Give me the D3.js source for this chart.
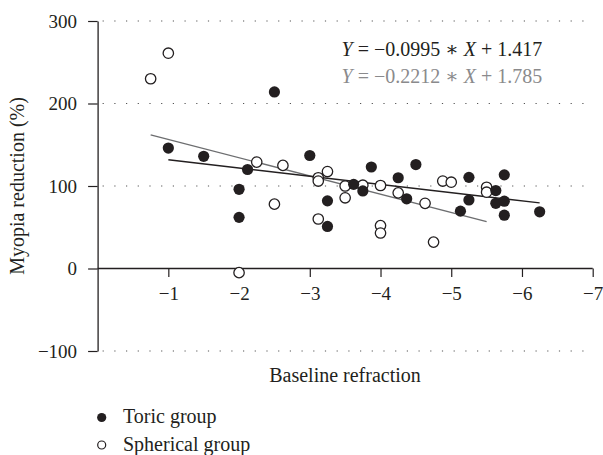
<!DOCTYPE html>
<html>
<head>
<meta charset="utf-8">
<script src="https://cdn.jsdelivr.net/npm/d3@7"></script>
<style>
  html, body { margin: 0; padding: 0; background: #fff; }
  svg text { font-family: "Liberation Serif", "DejaVu Serif", serif !important; }
</style>
</head>
<body>
<svg id="chart" width="603" height="455"></svg>
<script>
// ---- data ----
const toricX = [-1, -1.5, -2, -2, -2.12, -2.5, -3, -3.25, -3.25, -3.62, -3.75, -3.87, -4.25, -4.37, -4.5, -5.13, -5.25, -5.25, -5.63, -5.63, -5.75, -5.75, -5.75, -6.25];
const toricY = [146, 136, 96, 62, 120, 214, 137, 82, 51, 102, 94, 123, 110, 84.5, 126, 69.5, 110.5, 83, 94.5, 79, 113.5, 81.6, 64.6, 68.7];
const sphericalX = [-0.75, -1, -2, -2.25, -2.5, -2.62, -3.12, -3.12, -3.12, -3.25, -3.5, -3.5, -3.75, -4, -4, -4, -4.25, -4.63, -4.75, -4.88, -5, -5.5, -5.5];
const sphericalY = [230, 261, -5, 129, 78, 125, 110, 106, 60, 117.5, 100, 85.7, 101, 100.6, 52, 43, 91.7, 79, 32, 106, 104.6, 98.5, 92.5];
const toricFit = { slope: -0.0995, intercept: 1.417 };
const sphericalFit = { slope: -0.2212, intercept: 1.785 };
const xTicks = [-1, -2, -3, -4, -5, -6, -7];
const yTicks = [-100, 0, 100, 200, 300];
const gridValues = [300, 200, 100, -100];
const seriesNames = ["Toric group", "Spherical group"];
const equationTexts = [
  ["Y", " = \u22120.0995 \u2217 ", "X", " + 1.417"],
  ["Y", " = \u22120.2212 \u2217 ", "X", " + 1.785"]
];
const xTitle = "Baseline refraction";
const yTitle = "Myopia reduction (%)";

// ---- drawing ----
const ink = "#231f20";
const gray = "#8a8a8c";
const svg = d3.select("#chart");
const x = d3.scaleLinear().domain([0, -7]).range([97.6, 592.7]);
const y = d3.scaleLinear().domain([-100, 300]).range([351, 21]);
const fmt = d => (d < 0 ? "\u2212" + Math.abs(d) : String(d));

// gridlines
svg.append("g").selectAll("line").data(gridValues).join("line")
  .attr("x1", x(0) + 5).attr("x2", x(-7))
  .attr("y1", d => y(d)).attr("y2", d => y(d))
  .attr("stroke", "#555").attr("stroke-width", 1.1)
  .attr("stroke-dasharray", "1.2 10.5");

// y axis
const gy = svg.append("g").attr("transform", `translate(${x(0)},0)`)
  .call(d3.axisLeft(y).tickValues(yTicks).tickSize(9.5).tickSizeOuter(0).tickPadding(11).tickFormat(fmt));
// x axis
const gx = svg.append("g").attr("transform", `translate(0,${y(0)})`)
  .call(d3.axisBottom(x).tickValues(xTicks).tickSize(8.5).tickSizeOuter(0).tickPadding(10).tickFormat(fmt));
[gx, gy].forEach(g => {
  g.attr("font-family", null).attr("font-size", null);
  g.selectAll("path.domain").attr("stroke", ink).attr("stroke-width", 1.3);
  g.selectAll(".tick line").attr("stroke", ink).attr("stroke-width", 1.2);
  g.selectAll(".tick text").style("font-size", "19px").style("fill", ink);
});
gx.select("path.domain").attr("d", `M${x(0)},0H${x(-7)}`);

// regression lines
function fitLine(xs, fit, color) {
  const ext = d3.extent(xs);
  const pts = ext.map(v => [v, (fit.intercept + fit.slope * Math.abs(v)) * 100]);
  svg.append("path")
    .attr("d", d3.line().x(d => x(d[0])).y(d => y(d[1]))(pts))
    .attr("stroke", color).attr("stroke-width", 1.4).attr("fill", "none");
}
fitLine(sphericalX, sphericalFit, "#6d6e70");
fitLine(toricX, toricFit, ink);

// points
svg.append("g").selectAll("circle").data(d3.zip(sphericalX, sphericalY)).join("circle")
  .attr("cx", d => x(d[0])).attr("cy", d => y(d[1])).attr("r", 5.2)
  .attr("fill", "#fff").attr("stroke", ink).attr("stroke-width", 1.3);
svg.append("g").selectAll("circle").data(d3.zip(toricX, toricY)).join("circle")
  .attr("cx", d => x(d[0])).attr("cy", d => y(d[1])).attr("r", 5.6)
  .attr("fill", ink);

// equations
equationTexts.forEach((parts, i) => {
  const t = svg.append("text").attr("x", 341.5).attr("y", i === 0 ? 55.5 : 83)
    .style("font-size", "20px").style("fill", i === 0 ? ink : gray);
  parts.forEach((p, j) => t.append("tspan").text(p)
    .style("font-style", j % 2 === 0 ? "italic" : "normal").style("white-space", "pre"));
});

// axis titles
svg.append("text").attr("x", 345).attr("y", 382).attr("text-anchor", "middle")
  .style("font-size", "20px").style("fill", ink).text(xTitle);
svg.append("text").attr("transform", `translate(24,${(y(300) + y(-100)) / 2}) rotate(-90)`)
  .attr("text-anchor", "middle").style("font-size", "20px").style("fill", ink).text(yTitle);

// legend
const leg = svg.append("g");
seriesNames.forEach((name, i) => {
  const cy = i === 0 ? 417.5 : 445;
  if (i === 0) leg.append("circle").attr("cx", 101.7).attr("cy", cy).attr("r", 4.6).attr("fill", ink);
  else leg.append("circle").attr("cx", 101.7).attr("cy", cy).attr("r", 4).attr("fill", "#fff").attr("stroke", ink).attr("stroke-width", 1.2);
  leg.append("text").attr("x", 123).attr("y", cy + 5.5).style("font-size", "20px").style("fill", ink).text(name);
});
</script>
</body>
</html>
